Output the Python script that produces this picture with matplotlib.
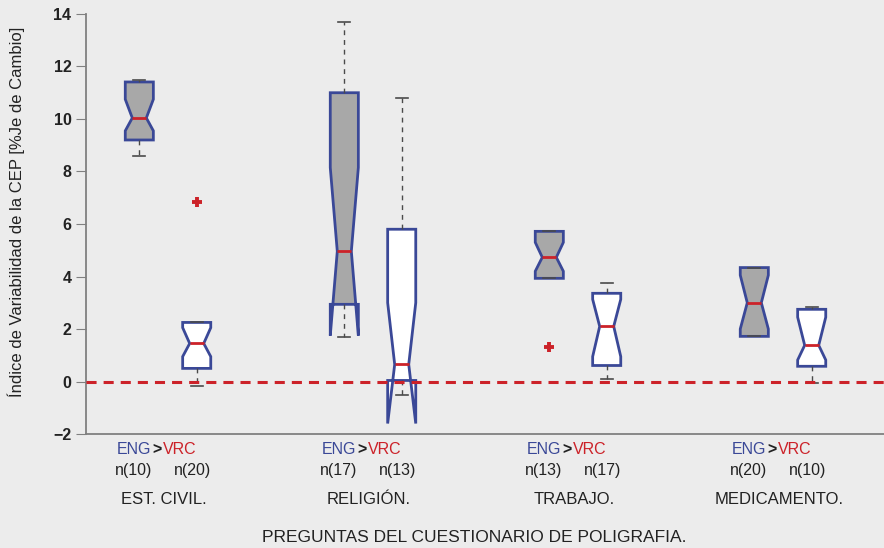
import numpy as np
import matplotlib.pyplot as plt

# datos (cajas con muesca)
categorias = ['EST. CIVIL.', 'RELIGIÓN.', 'TRABAJO.', 'MEDICAMENTO.']
n_eng = [10, 17, 13, 20]
n_vrc = [20, 13, 17, 10]

# ENG
eng_med = [10.04, 4.96, 4.73, 3.00]
eng_q1 = [9.20, 2.94, 3.93, 1.72]
eng_q3 = [11.41, 11.00, 5.72, 4.34]
eng_cilo = [9.55, 1.75, 4.20, 2.00]
eng_cihi = [10.75, 8.15, 5.30, 4.05]
eng_wlo = [8.58, 1.68, 3.93, 1.72]
eng_whi = [11.50, 13.70, 5.72, 4.34]
eng_out = [[], [], [1.30], []]

# VRC
vrc_med = [1.45, 0.65, 2.10, 1.38]
vrc_q1 = [0.50, 0.04, 0.61, 0.58]
vrc_q3 = [2.25, 5.80, 3.36, 2.75]
vrc_cilo = [0.95, -1.60, 0.95, 0.82]
vrc_cihi = [2.05, 3.00, 3.13, 2.45]
vrc_wlo = [-0.19, -0.50, 0.08, -0.05]
vrc_whi = [2.25, 10.80, 3.74, 2.82]
vrc_out = [[6.82], [], [], []]

azul = '#3a4897'
rojo = '#cc2229'
fondo = '#ececec'
texto = '#222222'

plt.rcParams['font.family'] = ['Liberation Sans', 'DejaVu Sans']

fig = plt.figure(figsize=(8.84, 5.48), dpi=100, facecolor=fondo)
ax = fig.add_axes([0.0973, 0.208, 0.9027, 0.7665], facecolor=fondo)

off = 0.14
w = 0.137


def stats(med, q1, q3, lo, hi, wlo, whi, out):
    return [dict(med=med[i], q1=q1[i], q3=q3[i], cilo=lo[i], cihi=hi[i],
                 whislo=wlo[i], whishi=whi[i], fliers=out[i])
            for i in range(len(med))]


grupos = np.arange(1, len(categorias) + 1)
comunes = dict(shownotches=True, patch_artist=True, widths=w, capwidths=0.06,
               medianprops=dict(color=rojo, lw=2),
               whiskerprops=dict(color='#4a4a4a', lw=1, ls=(0, (3.5, 3.5))),
               capprops=dict(color='#4a4a4a', lw=1.2),
               flierprops=dict(marker='+', markeredgecolor=rojo,
                               markeredgewidth=2.8, markersize=7),
               manage_ticks=False)

b1 = ax.bxp(stats(eng_med, eng_q1, eng_q3, eng_cilo, eng_cihi,
                  eng_wlo, eng_whi, eng_out),
            positions=grupos - off, **comunes)
b2 = ax.bxp(stats(vrc_med, vrc_q1, vrc_q3, vrc_cilo, vrc_cihi,
                  vrc_wlo, vrc_whi, vrc_out),
            positions=grupos + off, **comunes)
for b in b1['boxes']:
    b.set(facecolor='#a8a8a8', edgecolor=azul, lw=2)
for b in b2['boxes']:
    b.set(facecolor='white', edgecolor=azul, lw=2)

ax.axhline(0, color=rojo, lw=2.2, ls=(0, (3.3, 2.3)), zorder=5)

ax.set_xlim(0.6, 0.6 + 798 / 205)
ax.set_ylim(-2, 14)
ax.set_yticks(np.arange(-2, 15, 2))
ax.set_xticks([])
for s in ['top', 'right']:
    ax.spines[s].set_visible(False)
for s in ['left', 'bottom']:
    ax.spines[s].set_color('#808080')
    ax.spines[s].set_linewidth(1.3)
ax.tick_params(axis='y', length=7, color='#808080', labelsize=11.5,
               labelcolor=texto)
for t in ax.get_yticklabels():
    t.set_fontweight('bold')

ax.set_ylabel('Índice de Variabilidad de la CEP [%Je de Cambio]',
              fontsize=12, color=texto)
ax.yaxis.set_label_coords(-0.077, 0.53)

tr = ax.get_xaxis_transform()
for g, cat, ne, nv in zip(grupos, categorias, n_eng, n_vrc):
    ax.text(g - 0.165, -0.038, 'ENG', color=azul, fontsize=11.5, ha='center',
            va='center', transform=tr)
    ax.text(g - 0.053, -0.038, '>', color=texto, fontsize=11.5,
            fontweight='bold', ha='center', va='center', transform=tr)
    ax.text(g + 0.058, -0.038, 'VRC', color=rojo, fontsize=11.5, ha='center',
            va='center', transform=tr)
    ax.text(g - 0.168, -0.086, 'n(%d)' % ne, color=texto, fontsize=11.5,
            ha='center', va='center', transform=tr)
    ax.text(g + 0.12, -0.086, 'n(%d)' % nv, color=texto, fontsize=11.5,
            ha='center', va='center', transform=tr)
    ax.text(g - 0.02, -0.157, cat, color=texto, fontsize=12,
            ha='center', va='center', transform=tr)

fig.text(0.537, 0.02, 'PREGUNTAS DEL CUESTIONARIO DE POLIGRAFIA.',
         ha='center', va='center', fontsize=12.5, color=texto)

fig.savefig('out.png', dpi=100, facecolor=fondo)
